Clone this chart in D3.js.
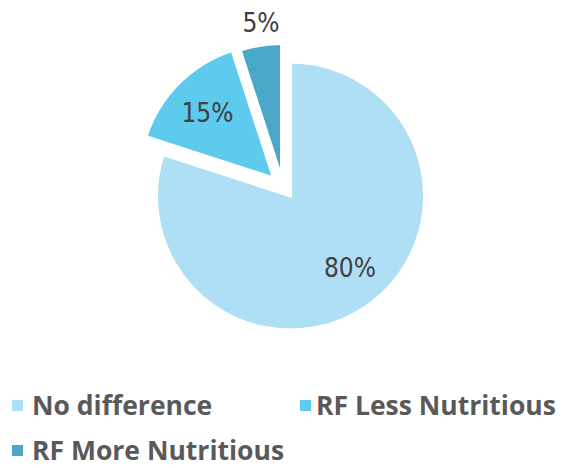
<!DOCTYPE html>
<html>
<head>
<meta charset="utf-8">
<script src="https://cdn.jsdelivr.net/npm/d3@7"></script>
<style>
  html, body { margin: 0; padding: 0; background: #ffffff; }
  svg { display: block; }
</style>
</head>
<body>
<svg id="chart" width="569" height="468"></svg>
<script>
// Survey answers: nutrition of RF products compared with the alternative
const categories = ["No difference", "RF Less Nutritious", "RF More Nutritious"];
const shares = [80, 15, 5];
const valueLabels = ["80%", "15%", "5%"];

// Appearance
const colors = ["#AEDFF4", "#5DCAEE", "#4AA7C7"];
const pieCenter = [290.5, 196];
const radius = 134;
// Exploded slices are pulled away from the centre by these offsets
const sliceShift = [[0, 0], [-17, -18], [-9, -18.5]];
// Distance of each value label from its slice's apex, and a small nudge
const labelRadius = [96, 92, 157];
const labelNudge = [[3, -6], [-1, 0], [4, 0]];

const svg = d3.select("#chart");

const pie = d3.pie().sort(null).value(d => d).startAngle(0).endAngle(2 * Math.PI);
const arcs = pie(shares);
const arc = d3.arc().innerRadius(0).outerRadius(radius);

const slices = svg.append("g")
  .attr("transform", `translate(${pieCenter[0]},${pieCenter[1]})`);

const sliceG = slices.selectAll("g.slice")
  .data(arcs)
  .join("g")
  .attr("class", "slice")
  .attr("transform", (d, i) => `translate(${sliceShift[i][0]},${sliceShift[i][1]})`);

sliceG.append("path")
  .attr("d", arc)
  .attr("fill", (d, i) => colors[i])
  .attr("stroke", "#ffffff")
  .attr("stroke-width", 3)
  .attr("stroke-linejoin", "miter");

sliceG.append("text")
  .attr("x", (d, i) => labelRadius[i] * Math.sin((d.startAngle + d.endAngle) / 2) + labelNudge[i][0])
  .attr("y", (d, i) => -labelRadius[i] * Math.cos((d.startAngle + d.endAngle) / 2) + labelNudge[i][1])
  .attr("dy", "0.36em")
  .attr("text-anchor", "middle")
  .style("font-family", "'Liberation Sans Narrow', 'DejaVu Sans Condensed', sans-serif")
  .style("font-size", "26px")
  .style("fill", "#404040")
  .text((d, i) => valueLabels[i]);

// Legend: two entries on the first row, one on the second
const legendPos = [[12, 415], [300, 415], [12, 460]];
const legend = svg.append("g").selectAll("g")
  .data(categories)
  .join("g")
  .attr("transform", (d, i) => `translate(${legendPos[i][0]},${legendPos[i][1]})`);

legend.append("rect")
  .attr("x", 0)
  .attr("y", -15)
  .attr("width", 11)
  .attr("height", 11)
  .attr("fill", (d, i) => colors[i]);

legend.append("text")
  .attr("x", (d, i) => i === 1 ? 16 : 20)
  .attr("y", 0)
  .style("font-family", "'Open Sans', sans-serif")
  .style("font-weight", "bold")
  .style("font-size", "26.5px")
  .style("fill", "#595959")
  .text(d => d);
</script>
</body>
</html>
